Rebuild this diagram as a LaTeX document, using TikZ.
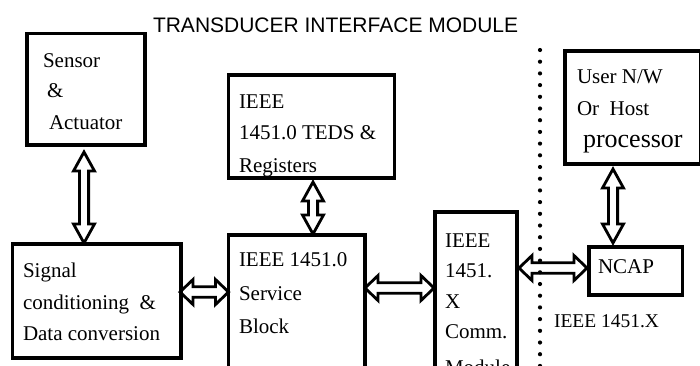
\documentclass[tikz,border=0pt]{standalone}
\usepackage{fontspec}
\setmainfont{Liberation Serif}
\newfontfamily\titlefont{Liberation Sans}
\usetikzlibrary{calc}
\tikzset{
  box/.style={draw, line width=3.5pt, inner sep=0pt, outer sep=0pt, anchor=north west},
  txt/.style={inner sep=0pt, outer sep=0pt, anchor=base west, font=\fontsize{21}{25}\selectfont},
  bigtxt/.style={txt, font=\fontsize{26}{30}\selectfont},
  smalltxt/.style={txt, font=\fontsize{19.5}{23}\selectfont},
  titletxt/.style={inner sep=0pt, outer sep=0pt, anchor=base west, font=\titlefont\fontsize{21}{25}\selectfont},
  sepline/.style={line width=4.2pt, line cap=round, dash pattern=on 0pt off 11.7pt},
  dbl/.style n args={3}{draw, line width=2.8pt, line join=miter, to path={
    let \p1=(\tikztostart), \p2=(\tikztotarget),
        \n1={atan2(\y2-\y1,\x2-\x1)}, \n2={\n1+90}, \n3={\n1-90}, \n4={\n1+180} in
    (\p1) -- ($(\p1)+(\n1:#1)+(\n2:#2)$) -- ($(\p1)+(\n1:#1)+(\n2:#3)$)
    -- ($(\p2)+(\n4:#1)+(\n2:#3)$) -- ($(\p2)+(\n4:#1)+(\n2:#2)$) -- (\p2)
    -- ($(\p2)+(\n4:#1)+(\n3:#2)$) -- ($(\p2)+(\n4:#1)+(\n3:#3)$)
    -- ($(\p1)+(\n1:#1)+(\n3:#3)$) -- ($(\p1)+(\n1:#1)+(\n3:#2)$) -- cycle}},
  vdbl/.style={dbl={19pt}{10.5pt}{4.6pt}},
  hdbl/.style={dbl={13pt}{12.5pt}{5.2pt}}
}
\begin{document}
\begin{tikzpicture}[x=1pt,y=-1pt]
\useasboundingbox (0,0) rectangle (700,365);
\clip (0,0) rectangle (700,365);
\fill[white] (0,0) rectangle (700,365);

% title
\node[titletxt] (title) at (153,32) {TRANSDUCER INTERFACE MODULE};

% boxes
\node[box, minimum width=118pt, minimum height=111.5pt] (sensor) at (27,33.5) {};
\node[box, minimum width=166pt, minimum height=103pt] (teds) at (228.5,75) {};
\node[box, minimum width=136pt, minimum height=113pt] (user) at (565,51) {};
\node[box, minimum width=168.5pt, minimum height=114pt] (signal) at (12.5,244) {};
\node[box, minimum width=136.5pt, minimum height=150pt] (service) at (228.5,235) {};
\node[box, minimum width=82pt, minimum height=173pt] (comm) at (435,212) {};
\node[box, minimum width=93.5pt, minimum height=48pt] (ncap) at (589,247) {};

% texts
\node[txt] (sensorA) at (43,67) {Sensor};
\node[txt] (sensorB) at (47,97) {\&};
\node[txt] (sensorC) at (49,129) {Actuator};

\node[txt] (tedsA) at (239,108) {IEEE};
\node[txt] (tedsB) at (239,139) {1451.0 TEDS \&};
\node[txt] (tedsC) at (239,172) {Registers};

\node[txt] (userA) at (577,83) {User N/W};
\node[txt] (userB) at (577,115) {Or\ \ Host};
\node[bigtxt] (userC) at (583,147) {processor};

\node[txt] (signalA) at (23,277) {Signal};
\node[txt] (signalB) at (23,309) {conditioning\ \ \&};
\node[txt] (signalC) at (23,340) {Data conversion};

\node[txt] (serviceA) at (239,266) {IEEE 1451.0};
\node[txt] (serviceB) at (239,300) {Service};
\node[txt] (serviceC) at (239,333) {Block};

\node[txt] (commA) at (445,247) {IEEE};
\node[txt] (commB) at (445,277) {1451.};
\node[txt] (commC) at (445,308) {X};
\node[txt] (commD) at (445,338) {Comm.};
\node[txt] (commE) at (445,374) {Module};

\node[txt] (ncapT) at (598,273) {NCAP};
\node[smalltxt] (ieeex) at (554,327) {IEEE 1451.X};

% double arrows
\draw[vdbl] ($(sensor.south)+(-2,7)$) to ($(sensor.south |- signal.north)+(-2,-1)$);
\draw[vdbl] ($(teds.south)+(1.5,4)$) to ($(teds.south |- service.north)+(1.5,-1)$);
\draw[hdbl] ($(signal.east)+(-1,-9)$) to ($(signal.east -| service.west)+(0,-9)$);
\draw[hdbl] ($(service.east)+(0,-22)$) to ($(service.east -| comm.west)+(-1,-22)$);
\draw[hdbl] ($(comm.east |- ncap.west)+(2,-3)$) to ($(ncap.west)+(-2,-3)$);
\draw[vdbl] ($(user.south)+(-20,5)$) to ($(user.south |- ncap.north)+(-20,-4)$);

% dotted separator
\coordinate (dtop) at (540,50);
\coordinate (dbot) at (540,372);
\draw[sepline] (dtop) -- (dbot);
\end{tikzpicture}
\end{document}
